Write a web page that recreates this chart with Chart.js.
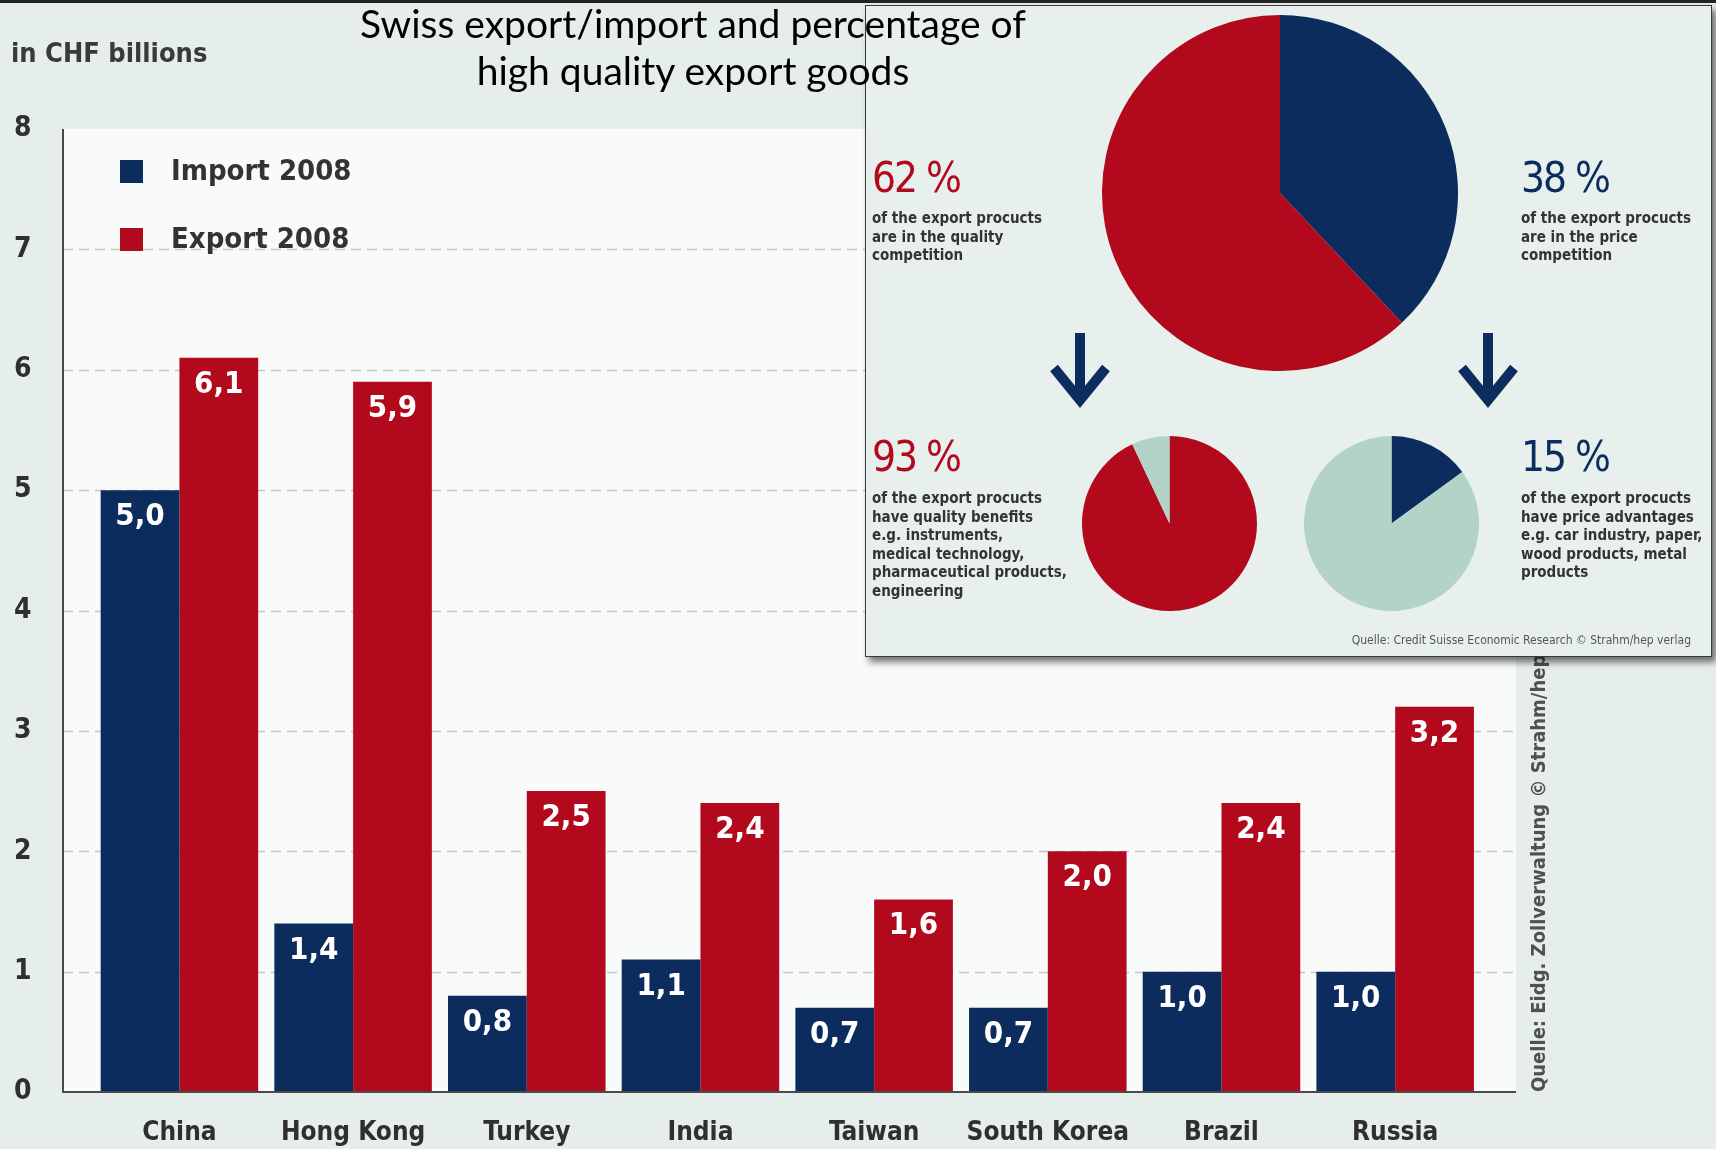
<!DOCTYPE html>
<html>
<head>
<meta charset="utf-8">
<script src="https://cdn.jsdelivr.net/npm/chart.js@4.4.1/dist/chart.umd.min.js"></script>
<style>
  html, body { margin: 0; padding: 0; }
  body { width: 1716px; height: 1149px; position: relative; overflow: hidden; background: #e6eeeb;
         font-family: 'Liberation Sans Narrow', 'DejaVu Sans Condensed', Roboto, sans-serif; }
  .abs { position: absolute; white-space: nowrap; }
  #topline { left: 0; top: 0; width: 1716px; height: 3px; background: #222; z-index: 5; }
  #barChart { position: absolute; left: 0; top: 0; z-index: 1; }
  #unit { left: 11px; top: 37px; font-size: 27px; font-weight: bold; color: #3a3a3a; line-height: 32px; z-index: 2; }
  #source { left: 1527px; top: 1092px; font-size: 20px; line-height: 22px; font-weight: bold; color: #505050; z-index: 2;
            transform-origin: 0 0; transform: rotate(-90deg); }
  #inset { left: 865px; top: 5px; width: 847px; height: 652px; box-sizing: border-box; background: #e8f0ee;
           border: 1.5px solid #3a3a3a; box-shadow: 4px 5px 7px rgba(0,0,0,0.55); z-index: 3; }
  .pie { position: absolute; z-index: 4; }
  .pct { font-size: 42px; line-height: 44px; z-index: 4; letter-spacing: -2px; }
  .red { color: #b20a1c; }
  .navy { color: #0c2c5e; }
  .desc { font-size: 15px; line-height: 18.5px; font-weight: bold; color: #333; z-index: 4; }
  #credit { left: 1321px; width: 370px; text-align: right; top: 632px; font-size: 12px; line-height: 16px; color: #555; z-index: 4; }
  .arrow { position: absolute; z-index: 4; }
  #title { left: 293px; width: 800px; top: 0px; text-align: center; font-family: Lato, 'Open Sans', sans-serif;
           font-size: 39px; line-height: 47px; color: #000; z-index: 6; }
</style>
</head>
<body>
<div id="topline" class="abs"></div>
<canvas id="barChart" width="1716" height="1149"></canvas>
<div id="unit" class="abs">in CHF billions</div>
<div id="source" class="abs">Quelle: Eidg. Zollverwaltung © Strahm/hep</div>

<div id="inset" class="abs"></div>
<canvas id="pieMain" class="pie" width="356" height="356" style="left:1102px; top:15px;"></canvas>
<canvas id="pieQuality" class="pie" width="175" height="175" style="left:1082px; top:436px;"></canvas>
<canvas id="piePrice" class="pie" width="175" height="175" style="left:1304px; top:436px;"></canvas>

<div class="abs pct red" style="left:872px; top:156px;">62 %</div>
<div class="abs desc" style="left:872px; top:209px;">of the export procucts<br>are in the quality<br>competition</div>
<div class="abs pct navy" style="left:1521px; top:156px;">38 %</div>
<div class="abs desc" style="left:1521px; top:209px;">of the export procucts<br>are in the price<br>competition</div>

<svg class="arrow" style="left:1048px; top:330px;" width="64" height="80">
  <line x1="32" y1="3" x2="32" y2="68" stroke="#0c2c5e" stroke-width="10"/>
  <polyline points="6,38 32,70 58,38" fill="none" stroke="#0c2c5e" stroke-width="10"/>
</svg>
<svg class="arrow" style="left:1456px; top:330px;" width="64" height="80">
  <line x1="32" y1="3" x2="32" y2="68" stroke="#0c2c5e" stroke-width="10"/>
  <polyline points="6,38 32,70 58,38" fill="none" stroke="#0c2c5e" stroke-width="10"/>
</svg>

<div class="abs pct red" style="left:872px; top:435px;">93 %</div>
<div class="abs desc" style="left:872px; top:489px;">of the export procucts<br>have quality benefits<br>e.g. instruments,<br>medical technology,<br>pharmaceutical products,<br>engineering</div>
<div class="abs pct navy" style="left:1521px; top:435px;">15 %</div>
<div class="abs desc" style="left:1521px; top:489px;">of the export procucts<br>have price advantages<br>e.g. car industry, paper,<br>wood products, metal<br>products</div>
<div id="credit" class="abs">Quelle: Credit Suisse Economic Research © Strahm/hep verlag</div>

<div id="title" class="abs">Swiss export/import and percentage of<br>high quality export goods</div>

<script>
const categories = ['China', 'Hong Kong', 'Turkey', 'India', 'Taiwan', 'South Korea', 'Brazil', 'Russia'];
const import2008 = [5.0, 1.4, 0.8, 1.1, 0.7, 0.7, 1.0, 1.0];
const export2008 = [6.1, 5.9, 2.5, 2.4, 1.6, 2.0, 2.4, 3.2];
const yTicks = [0, 1, 2, 3, 4, 5, 6, 7, 8];

// inset pies (percent)
const competitionShare = [38, 62];   // price, quality
const qualityBenefits = [93, 7];
const priceAdvantages = [15, 85];

const NAVY = '#0c2c5e';
const RED = '#b20a1c';
const PALE = '#b3d3c7';
const FONT = "'Liberation Sans Narrow', 'DejaVu Sans Condensed', Roboto, sans-serif";

// the white plot box is a bit wider than the bar area
const PLOT_LEFT = 63;
const PLOT_RIGHT = 1516;

function fmt(v) {
  return v.toFixed(1).replace('.', ',');
}

const decor = {
  id: 'decor',
  beforeDatasetsDraw(chart) {
    const ctx = chart.ctx;
    const y = chart.scales.y;
    const top = y.getPixelForValue(yTicks[yTicks.length - 1]);
    const bottom = y.getPixelForValue(0);
    ctx.save();
    ctx.fillStyle = '#f9fafa';
    ctx.fillRect(PLOT_LEFT, top, PLOT_RIGHT - PLOT_LEFT, bottom - top);
    ctx.strokeStyle = '#c4c8c7';
    ctx.lineWidth = 1.5;
    ctx.setLineDash([10, 6]);
    yTicks.slice(1, -1).forEach(t => {
      const py = Math.round(y.getPixelForValue(t)) + 0.5;
      ctx.beginPath();
      ctx.moveTo(PLOT_LEFT, py);
      ctx.lineTo(PLOT_RIGHT, py);
      ctx.stroke();
    });
    ctx.restore();
  },
  afterDatasetsDraw(chart) {
    const ctx = chart.ctx;
    const y = chart.scales.y;
    const top = y.getPixelForValue(yTicks[yTicks.length - 1]);
    const bottom = y.getPixelForValue(0);
    ctx.save();
    ctx.strokeStyle = '#4a4a4a';
    ctx.lineWidth = 2;
    ctx.beginPath();
    ctx.moveTo(PLOT_LEFT, top);
    ctx.lineTo(PLOT_LEFT, bottom);
    ctx.lineTo(PLOT_RIGHT, bottom);
    ctx.stroke();

    // value labels inside the bars
    ctx.fillStyle = '#ffffff';
    ctx.font = 'bold 31px ' + FONT;
    ctx.textAlign = 'center';
    ctx.textBaseline = 'middle';
    chart.data.datasets.forEach((ds, i) => {
      chart.getDatasetMeta(i).data.forEach((bar, j) => {
        ctx.fillText(fmt(ds.data[j]), bar.x, bar.y + 27);
      });
    });

    // legend in the upper left corner
    ctx.font = 'bold 29px ' + FONT;
    ctx.textAlign = 'left';
    chart.data.datasets.forEach((ds, i) => {
      const cy = 171 + i * 68;
      ctx.fillStyle = ds.backgroundColor;
      ctx.fillRect(120, cy - 11, 23, 23);
      ctx.fillStyle = '#333333';
      ctx.fillText(ds.label, 171, cy + 1);
    });
    ctx.restore();
  }
};

new Chart(document.getElementById('barChart'), {
  type: 'bar',
  data: {
    labels: categories,
    datasets: [
      { label: 'Import 2008', data: import2008, backgroundColor: NAVY },
      { label: 'Export 2008', data: export2008, backgroundColor: RED }
    ]
  },
  options: {
    responsive: false,
    animation: false,
    layout: { padding: { top: 129, right: 234, left: 14, bottom: 0 } },
    datasets: { bar: { categoryPercentage: 0.907, barPercentage: 1.0 } },
    plugins: { legend: { display: false }, tooltip: { enabled: false } },
    scales: {
      x: {
        grid: { display: false },
        border: { display: false },
        ticks: { color: '#2f2f2f', font: { family: FONT, size: 26, weight: 'bold' }, padding: 18,
                 autoSkip: false, maxRotation: 0, minRotation: 0 },
        afterFit: s => { s.height = 57; }
      },
      y: {
        min: 0,
        max: 8,
        grid: { display: false },
        border: { display: false },
        afterBuildTicks: s => { s.ticks = yTicks.map(v => ({ value: v })); },
        ticks: { color: '#2f2f2f', font: { family: FONT, size: 28, weight: 'bold' }, padding: 0, crossAlign: 'far' },
        afterFit: s => { s.width = 78.6; }
      }
    }
  },
  plugins: [decor]
});

function pie(id, values, colors) {
  new Chart(document.getElementById(id), {
    type: 'pie',
    data: { labels: values.map(String), datasets: [{ data: values, backgroundColor: colors, borderWidth: 0 }] },
    options: {
      responsive: false,
      animation: false,
      layout: { padding: 0 },
      plugins: { legend: { display: false }, tooltip: { enabled: false } }
    }
  });
}

pie('pieMain', competitionShare, [NAVY, RED]);
pie('pieQuality', qualityBenefits, [RED, PALE]);
pie('piePrice', priceAdvantages, [NAVY, PALE]);
</script>
</body>
</html>
